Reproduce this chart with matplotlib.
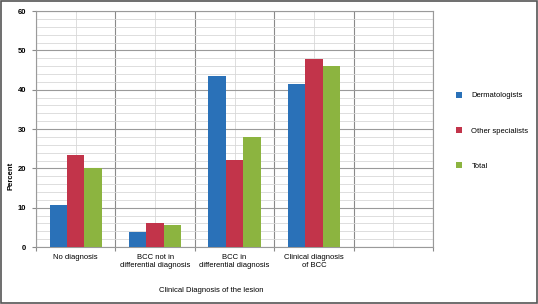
import numpy as np
import matplotlib
matplotlib.use("Agg")
import matplotlib.pyplot as plt
from matplotlib.ticker import MultipleLocator, FixedLocator

plt.rcParams['font.family'] = ['Liberation Sans', 'DejaVu Sans']

categories = ["No diagnosis", "BCC not in\ndifferential diagnosis",
              "BCC in\ndifferential diagnosis", "Clinical diagnosis\nof BCC", ""]
series_names = ["Dermatologists", "Other specialists", "Total"]
dermatologists = [10.8, 3.8, 43.4, 41.4, np.nan]
other_specialists = [23.3, 6.2, 22.2, 47.9, np.nan]
total = [20.0, 5.6, 28.0, 46.0, np.nan]
colors = ["#2a71b8", "#c2344a", "#8cb440"]

fig = plt.figure(figsize=(5.38, 3.04), dpi=100)
ax = fig.add_axes([0.067, 0.1875, 0.738, 0.776])

x = np.arange(len(categories))
w = 0.22
for i, (vals, name) in enumerate(zip([dermatologists, other_specialists, total], series_names)):
    ax.bar(x + (i - 1) * w, vals, width=w, color=colors[i], label=name, zorder=3)

ax.set_xlim(-0.5, len(categories) - 0.5)
ax.set_ylim(0, 60)

# y grid: major every 10, minor every 2
ax.yaxis.set_major_locator(MultipleLocator(10))
ax.yaxis.set_minor_locator(MultipleLocator(2))
ax.grid(axis='y', which='major', color='#9a9a9a', lw=0.8, zorder=0)
ax.grid(axis='y', which='minor', color='#d8d8d8', lw=0.6, zorder=0)

# x grid: boundaries dark, centers light; labels on centers
ax.xaxis.set_major_locator(FixedLocator(np.arange(-0.5, len(categories), 1.0)))
ax.xaxis.set_minor_locator(FixedLocator(x))
ax.set_xticklabels([])
ax.set_xticklabels(categories, minor=True, fontsize=5.5, linespacing=1.3)
ax.grid(axis='x', which='major', color='#8a8a8a', lw=0.8, zorder=0)
ax.grid(axis='x', which='minor', color='#d8d8d8', lw=0.6, zorder=0)
ax.tick_params(axis='x', which='major', length=3, color='#8a8a8a')
ax.tick_params(axis='x', which='minor', length=0, pad=5)
ax.tick_params(axis='y', which='major', length=3, color='#8a8a8a', labelsize=5.5, pad=4)
ax.tick_params(axis='y', which='minor', length=0)
for lab in ax.get_yticklabels():
    lab.set_fontweight('bold')

for s in ax.spines.values():
    s.set_color('#9a9a9a')
    s.set_linewidth(0.8)

fig.text(0.02, 0.42, "Percent", rotation=90, fontsize=5.5, fontweight='bold',
         ha='center', va='center')
fig.text(0.393, 0.045, "Clinical Diagnosis of the lesion", fontsize=5.5,
         ha='center', va='center')

fig.legend(loc='center left', bbox_to_anchor=(0.835, 0.57), frameon=False,
           fontsize=5.5, handlelength=0.8, handleheight=0.8, labelspacing=3.6,
           handletextpad=1.2)

# outer frame
fig.patches.append(plt.Rectangle((0.002, 0.003), 0.996, 0.994, transform=fig.transFigure,
                                 fill=False, edgecolor='#555555', lw=1.2))

fig.savefig("out.png", dpi=100)
